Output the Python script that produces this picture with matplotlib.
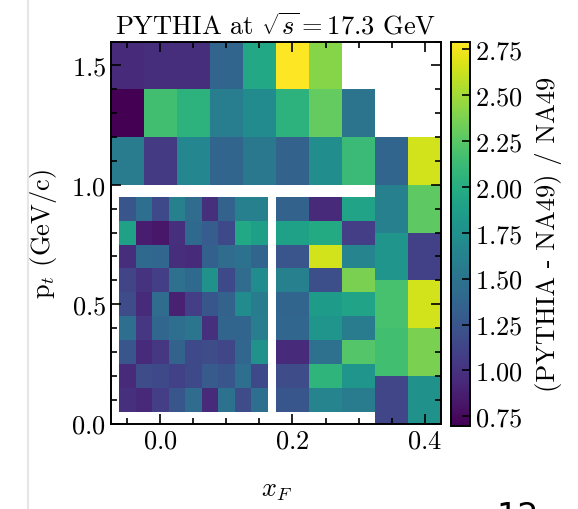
import numpy as np
import matplotlib
matplotlib.use("Agg")
import matplotlib.pyplot as plt
from matplotlib.colors import Normalize
from matplotlib.lines import Line2D
from matplotlib.ticker import MultipleLocator

plt.rcParams["font.family"] = "serif"
plt.rcParams["font.serif"] = ["cmr10"]
plt.rcParams["mathtext.fontset"] = "cm"
plt.rcParams["axes.formatter.use_mathtext"] = True

nan = np.nan

# coarse binning: full xF range, pt 1.0 - 1.6
xf_coarse = [-0.075, -0.025, 0.025, 0.075, 0.125, 0.175, 0.225, 0.275, 0.325, 0.375, 0.425]
pt_high = [1.0, 1.2, 1.4, 1.6]
ratio_high = [
    [1.56, 1.05, 1.66, 1.37, 1.54, 1.35, 1.72, 2.12, 1.37, 2.65],   # 1.0-1.2
    [0.70, 2.16, 2.04, 1.58, 1.70, 2.04, 2.29, 1.50, nan, nan],     # 1.2-1.4
    [0.95, 0.97, 0.97, 1.37, 1.95, 2.79, 2.41, nan, nan, nan],      # 1.4-1.6
]

# forward bins, pt 0.0 - 1.0
xf_fwd = [0.325, 0.375, 0.425]
pt_fwd = [0.0, 0.2, 0.4, 0.6, 0.8, 1.0]
ratio_fwd = [
    [1.14, 1.75],
    [2.16, 2.37],
    [2.18, 2.65],
    [1.79, 1.10],
    [1.60, 2.27],
]

# fine binning around midrapidity
pt_fine = [0.05, 0.15, 0.25, 0.35, 0.45, 0.55, 0.65, 0.75, 0.85, 0.95]
xf_fine_lo = [-0.0625, -0.0375, -0.0125, 0.0125, 0.0375, 0.0625, 0.0875, 0.1125, 0.1375, 0.1625]
ratio_fine_lo = [
    [0.99, 0.93, 1.08, 1.26, 1.43, 0.95, 1.49, 1.18, 1.45],
    [0.95, 1.18, 1.16, 1.10, 1.16, 1.29, 1.26, 1.45, 1.16],
    [1.26, 0.95, 1.03, 1.35, 1.16, 1.18, 1.14, 1.39, 1.75],
    [1.45, 1.03, 1.39, 1.45, 1.51, 0.99, 1.37, 1.37, 1.58],
    [1.18, 0.95, 1.43, 0.89, 1.08, 1.26, 1.35, 1.70, 1.56],
    [1.12, 1.01, 1.08, 1.47, 1.41, 1.75, 1.16, 1.43, 1.70],
    [0.97, 1.41, 1.39, 0.97, 0.95, 1.33, 1.43, 1.49, 1.37],
    [1.89, 0.87, 0.83, 0.99, 1.41, 1.31, 1.16, 1.95, 1.87],
    [1.26, 1.45, 1.16, 1.60, 1.43, 0.99, 1.35, 1.60, 1.60],
]
xf_fine_hi = [0.175, 0.225, 0.275, 0.325]
ratio_fine_hi = [
    [1.26, 1.64, 1.56],
    [1.18, 2.06, 1.79],
    [0.95, 1.47, 2.23],
    [1.39, 1.79, 1.56],
    [1.37, 1.85, 1.91],
    [1.60, 1.20, 2.37],
    [1.24, 2.65, 1.64],
    [1.89, 1.97, 1.08],
    [1.35, 0.95, 1.91],
]

cbar_ticks = [0.75, 1.00, 1.25, 1.50, 1.75, 2.00, 2.25, 2.50, 2.75]

fig = plt.figure(figsize=(5.78, 5.10), dpi=100)
ax = fig.add_axes([0.192, 0.1675, 0.571, 0.749])
cax = fig.add_axes([0.780, 0.1635, 0.033, 0.753])

norm = Normalize(vmin=0.70, vmax=2.79)
blocks = [(xf_coarse, pt_high, ratio_high), (xf_fwd, pt_fwd, ratio_fwd),
          (xf_fine_lo, pt_fine, ratio_fine_lo), (xf_fine_hi, pt_fine, ratio_fine_hi)]
for xe, ye, z in blocks:
    mesh = ax.pcolormesh(xe, ye, np.ma.masked_invalid(np.array(z)),
                         cmap="viridis", norm=norm, shading="flat")

ax.set_xlim(-0.075, 0.425)
ax.set_ylim(0.0, 1.6)
ax.xaxis.set_major_locator(MultipleLocator(0.2))
ax.xaxis.set_minor_locator(MultipleLocator(0.05))
ax.yaxis.set_major_locator(MultipleLocator(0.5))
ax.yaxis.set_minor_locator(MultipleLocator(0.1))
ax.tick_params(which="both", direction="in", top=True, right=True, labelsize=19, width=1.2)
ax.tick_params(which="major", length=7)
ax.tick_params(which="minor", length=4)
for sp in ax.spines.values():
    sp.set_linewidth(1.4)

ax.set_title(r"PYTHIA at $\sqrt{s} = 17.3$ GeV", fontsize=19, pad=6)
ax.set_xlabel(r"$x_F$", fontsize=19, labelpad=19)
ax.set_ylabel(r"p$_t$ (GeV/c)", fontsize=19, labelpad=9)

cb = fig.colorbar(mesh, cax=cax, ticks=cbar_ticks)
cb.ax.tick_params(direction="in", length=6, width=1.2, labelsize=19)
cb.outline.set_linewidth(1.4)
cb.set_label("(PYTHIA - NA49) / NA49", fontsize=19, labelpad=9)

# page edge and page number from the surrounding document
fig.add_artist(Line2D([28 / 578, 28 / 578], [0, 1], transform=fig.transFigure,
                      color="#e6e6e6", lw=1.5))
fig.text(0.858, 0.018, "12", fontsize=24, family="DejaVu Sans", va="top", ha="left")

fig.savefig("out.png", dpi=100)
